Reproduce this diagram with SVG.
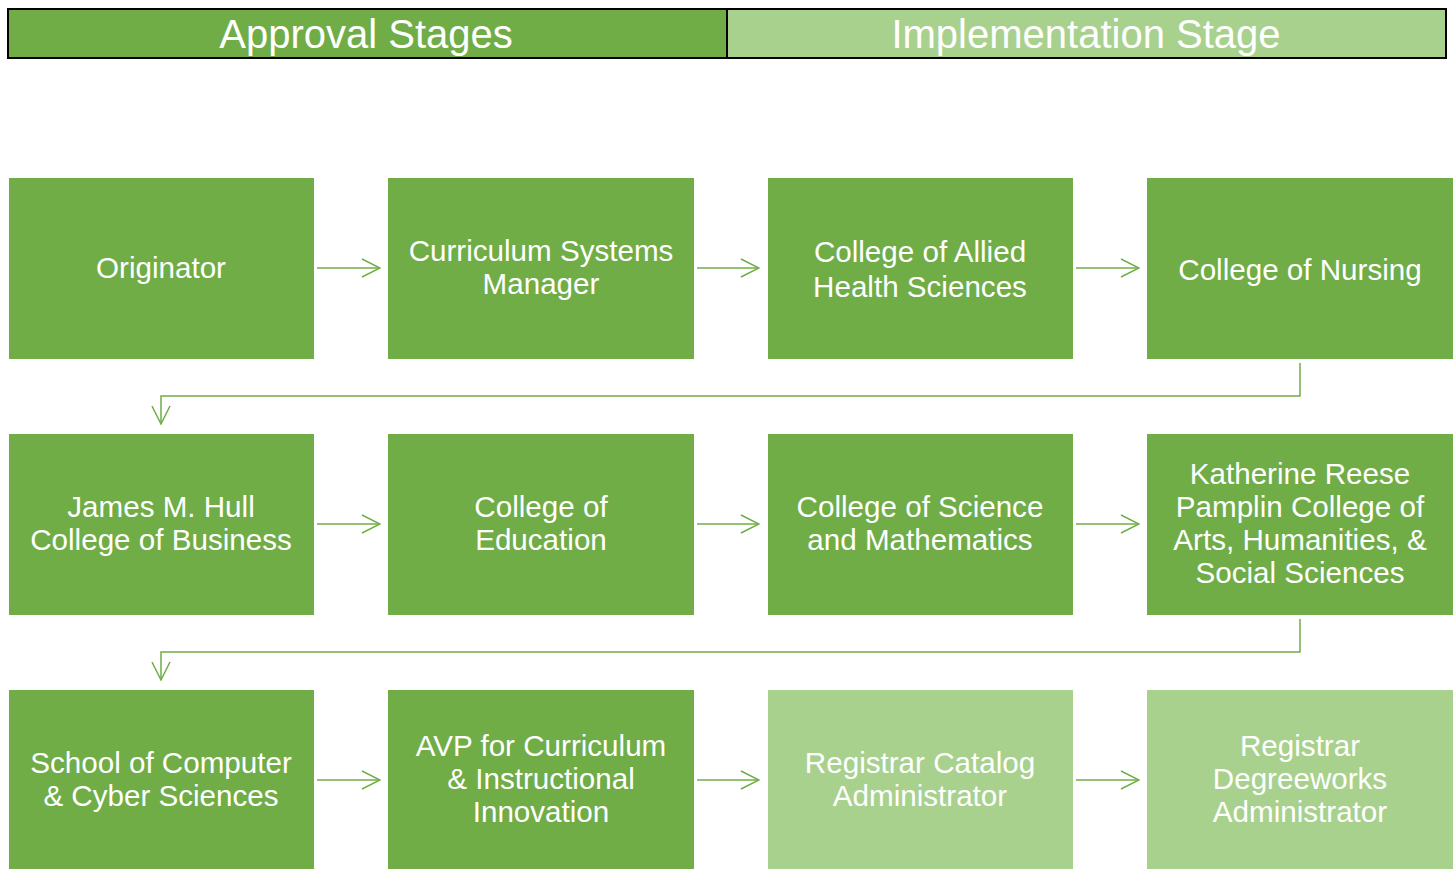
<svg xmlns="http://www.w3.org/2000/svg" width="1453" height="869" viewBox="0 0 1453 869">
  <defs>
    <style>
      .box { fill: #70AD47; }
      .box-light { fill: #A9D18E; }
      .lbl { font-family: "Liberation Sans", Arial, sans-serif; font-size: 29.6px; fill: #FFFFFF; text-anchor: middle; }
      .hdr { font-family: "Liberation Sans", Arial, sans-serif; font-size: 40px; fill: #FFFFFF; text-anchor: middle; }
      .conn { fill: none; stroke: #70AD47; stroke-width: 1.5; }
    </style>
    <marker id="chev" viewBox="0 0 20 20" refX="19" refY="10" markerWidth="20" markerHeight="20" markerUnits="userSpaceOnUse" orient="auto">
      <path d="M1,1 L19,10 L1,19" fill="none" stroke="#70AD47" stroke-width="1.5"/>
    </marker>
  </defs>

  <rect width="1453" height="869" fill="#FFFFFF"/>

  <!-- stage header band -->
  <g id="header">
    <rect x="8" y="9" width="719" height="49" class="box"/>
    <rect x="727" y="9" width="719" height="49" class="box-light"/>
    <rect x="8" y="9" width="1438" height="49" fill="none" stroke="#000000" stroke-width="2"/>
    <line x1="727" y1="9" x2="727" y2="58" stroke="#000000" stroke-width="2"/>
    <text class="hdr" x="366" y="48">Approval Stages</text>
    <text class="hdr" x="1086" y="48">Implementation Stage</text>
  </g>

  <!-- row 1 -->
  <g id="originator">
    <rect class="box" x="9" y="178" width="305" height="181"/>
    <text class="lbl" x="161" y="278">Originator</text>
  </g>
  <g id="curriculum-systems-manager">
    <rect class="box" x="388" y="178" width="306" height="181"/>
    <text class="lbl" x="541" y="261">Curriculum Systems</text>
    <text class="lbl" x="541" y="294">Manager</text>
  </g>
  <g id="allied-health">
    <rect class="box" x="768" y="178" width="305" height="181"/>
    <text class="lbl" x="920" y="262">College of Allied</text>
    <text class="lbl" x="920" y="297">Health Sciences</text>
  </g>
  <g id="nursing">
    <rect class="box" x="1147" y="178" width="306" height="181"/>
    <text class="lbl" x="1300" y="280">College of Nursing</text>
  </g>

  <!-- row 2 -->
  <g id="business">
    <rect class="box" x="9" y="434" width="305" height="181"/>
    <text class="lbl" x="161" y="517">James M. Hull</text>
    <text class="lbl" x="161" y="550">College of Business</text>
  </g>
  <g id="education">
    <rect class="box" x="388" y="434" width="306" height="181"/>
    <text class="lbl" x="541" y="517">College of</text>
    <text class="lbl" x="541" y="550">Education</text>
  </g>
  <g id="science-math">
    <rect class="box" x="768" y="434" width="305" height="181"/>
    <text class="lbl" x="920" y="517">College of Science</text>
    <text class="lbl" x="920" y="550">and Mathematics</text>
  </g>
  <g id="pamplin">
    <rect class="box" x="1147" y="434" width="306" height="181"/>
    <text class="lbl" x="1300" y="484">Katherine Reese</text>
    <text class="lbl" x="1300" y="517">Pamplin College of</text>
    <text class="lbl" x="1300" y="550">Arts, Humanities, &amp;</text>
    <text class="lbl" x="1300" y="583">Social Sciences</text>
  </g>

  <!-- row 3 -->
  <g id="computer-cyber">
    <rect class="box" x="9" y="690" width="305" height="179"/>
    <text class="lbl" x="161" y="773">School of Computer</text>
    <text class="lbl" x="161" y="806">&amp; Cyber Sciences</text>
  </g>
  <g id="avp">
    <rect class="box" x="388" y="690" width="306" height="179"/>
    <text class="lbl" x="541" y="756">AVP for Curriculum</text>
    <text class="lbl" x="541" y="789">&amp; Instructional</text>
    <text class="lbl" x="541" y="822">Innovation</text>
  </g>
  <g id="registrar-catalog">
    <rect class="box-light" x="768" y="690" width="305" height="179"/>
    <text class="lbl" x="920" y="773">Registrar Catalog</text>
    <text class="lbl" x="920" y="806">Administrator</text>
  </g>
  <g id="registrar-degreeworks">
    <rect class="box-light" x="1147" y="690" width="306" height="179"/>
    <text class="lbl" x="1300" y="756">Registrar</text>
    <text class="lbl" x="1300" y="789">Degreeworks</text>
    <text class="lbl" x="1300" y="822">Administrator</text>
  </g>

  <!-- connectors -->
  <g id="connectors">
    <line class="conn" x1="317" y1="268" x2="380" y2="268" marker-end="url(#chev)"/>
    <line class="conn" x1="697" y1="268" x2="759" y2="268" marker-end="url(#chev)"/>
    <line class="conn" x1="1076" y1="268" x2="1139" y2="268" marker-end="url(#chev)"/>
    <polyline class="conn" points="1300,363 1300,396 161,396 161,424" marker-end="url(#chev)"/>
    <line class="conn" x1="317" y1="524" x2="380" y2="524" marker-end="url(#chev)"/>
    <line class="conn" x1="697" y1="524" x2="759" y2="524" marker-end="url(#chev)"/>
    <line class="conn" x1="1076" y1="524" x2="1139" y2="524" marker-end="url(#chev)"/>
    <polyline class="conn" points="1300,619 1300,652 161,652 161,680" marker-end="url(#chev)"/>
    <line class="conn" x1="317" y1="780" x2="380" y2="780" marker-end="url(#chev)"/>
    <line class="conn" x1="697" y1="780" x2="759" y2="780" marker-end="url(#chev)"/>
    <line class="conn" x1="1076" y1="780" x2="1139" y2="780" marker-end="url(#chev)"/>
  </g>
</svg>
